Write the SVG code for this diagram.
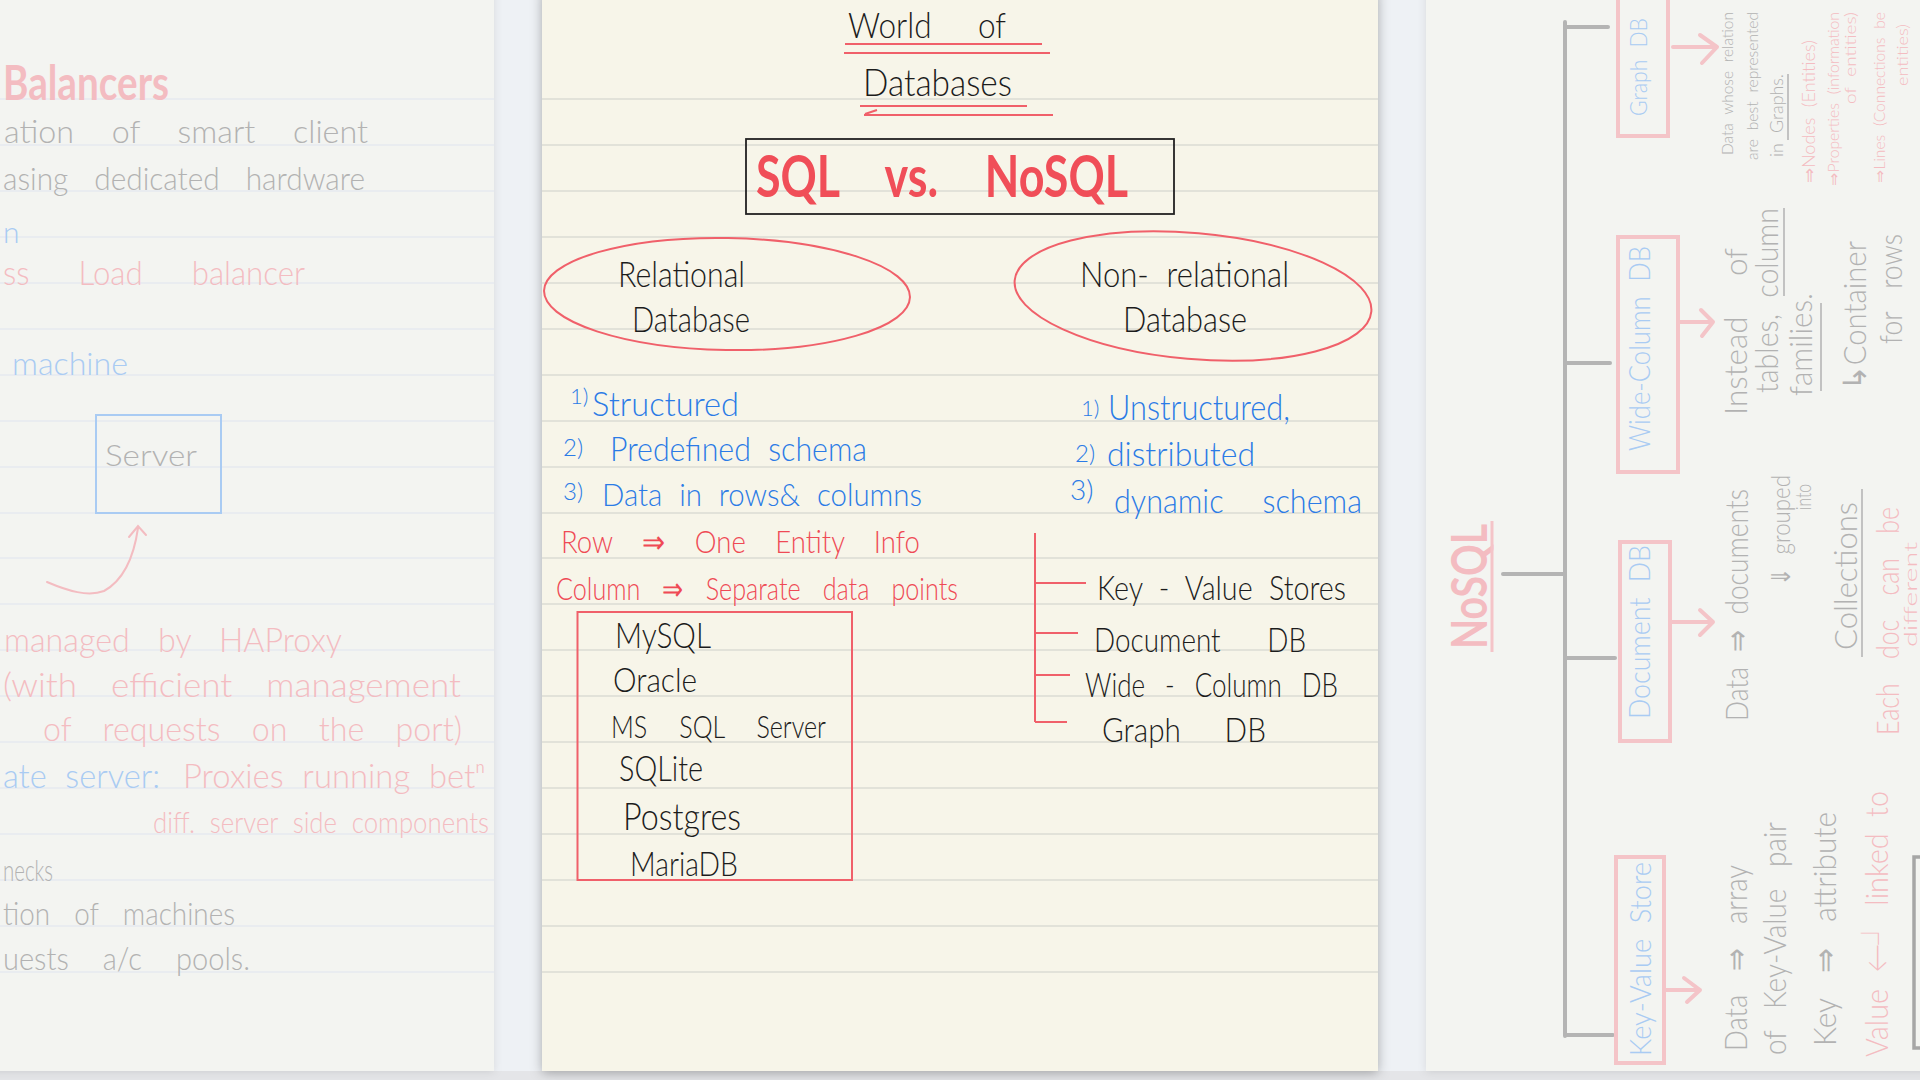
<svg xmlns="http://www.w3.org/2000/svg" width="1920" height="1080" viewBox="0 0 1920 1080">
<defs>
<style>
.hw{font-family:Lato,"Noto Sans","DejaVu Sans",sans-serif;font-weight:300;word-spacing:0.3em}
.bold{font-weight:700}
.k{fill:#1c1c1c}.b{fill:#2b7be6}.r{fill:#ef4a55}
.fg{fill:#b2b2b2}.fp{fill:#f3bcc1}.fb{fill:#a9cbf3}
.rule{stroke:#dcdbd3;stroke-width:1.6;fill:none}
.lrule{stroke:#e6e9ef;stroke-width:1.4;fill:none}
.redln{stroke:#f0606a;stroke-width:2;fill:none}
.pinkln{stroke:#f4c4c8;stroke-width:4;fill:none;stroke-linecap:round;stroke-linejoin:round}
.grayln{stroke:#b4b4b4;stroke-width:4;fill:none;stroke-linecap:round}
</style>
<filter id="sh" x="-10%" y="-5%" width="120%" height="110%"><feDropShadow dx="0" dy="2" stdDeviation="6" flood-color="#000" flood-opacity="0.3"/></filter>
<filter id="sh2" x="-10%" y="-5%" width="120%" height="110%"><feDropShadow dx="0" dy="1" stdDeviation="4" flood-color="#000" flood-opacity="0.1"/></filter>
</defs>
<rect width="1920" height="1080" fill="#eef1f5"/>
<rect y="1071" width="1920" height="9" fill="#e4e5e8"/>

<!-- LEFT PAGE (faded) -->
<g id="left-page">
<rect x="-10" y="-10" width="504" height="1081" fill="#f3f4f1" filter="url(#sh2)"/>
<path class="lrule" d="M0,99H494M0,145H494M0,191H494M0,237H494M0,283H494M0,329H494M0,375H494M0,421H494M0,467H494M0,513H494M0,558H494M0,604H494M0,650H494M0,696H494M0,742H494M0,788H494M0,834H494M0,880H494M0,926H494M0,972H494"/>
<text class="hw bold fp" x="3" y="100" font-size="48" textLength="166" lengthAdjust="spacingAndGlyphs">Balancers</text>
<text class="hw fg" x="4" y="143" font-size="32" textLength="364" lengthAdjust="spacingAndGlyphs" style="word-spacing:0.9em">ation of smart client</text>
<text class="hw fg" x="3" y="190" font-size="32" textLength="362" lengthAdjust="spacingAndGlyphs" style="word-spacing:0.6em">asing dedicated hardware</text>
<text class="hw fb" x="3" y="243" font-size="30">n</text>
<text class="hw fp" x="3" y="285" font-size="34" textLength="302" lengthAdjust="spacingAndGlyphs" style="word-spacing:1.3em">ss Load balancer</text>
<text class="hw fb" x="12" y="375" font-size="32" textLength="116" lengthAdjust="spacingAndGlyphs">machine</text>
<g id="server">
<rect x="96" y="415" width="125" height="98" fill="none" stroke="#a9cbf3" stroke-width="2"/>
<text class="hw fg" x="105" y="466" font-size="30" textLength="92" lengthAdjust="spacingAndGlyphs">Server</text>
</g>
<path d="M47,582 C68,591 88,597 104,591 C124,580 134,556 138,528 M129,537 L138,526 L146,535" fill="none" stroke="#f3bcc1" stroke-width="2" stroke-linecap="round"/>
<text class="hw fp" x="4" y="652" font-size="34" textLength="338" lengthAdjust="spacingAndGlyphs" style="word-spacing:0.6em">managed by HAProxy</text>
<text class="hw fp" x="3" y="697" font-size="34" textLength="458" lengthAdjust="spacingAndGlyphs" style="word-spacing:0.7em">(with efficient management</text>
<text class="hw fp" x="43" y="741" font-size="34" textLength="419" lengthAdjust="spacingAndGlyphs" style="word-spacing:0.7em">of requests on the port)</text>
<text class="hw fb" x="3" y="788" font-size="34" textLength="157" lengthAdjust="spacingAndGlyphs">ate server:</text>
<text class="hw fp" x="183" y="788" font-size="34" textLength="302" lengthAdjust="spacingAndGlyphs">Proxies running betⁿ</text>
<text class="hw fp" x="153" y="833" font-size="30" textLength="336" lengthAdjust="spacingAndGlyphs">diff. server side components</text>
<text class="hw fg" x="3" y="881" font-size="30" textLength="50" lengthAdjust="spacingAndGlyphs">necks</text>
<text class="hw fg" x="3" y="925" font-size="32" textLength="232" lengthAdjust="spacingAndGlyphs" style="word-spacing:0.6em">tion of machines</text>
<text class="hw fg" x="3" y="970" font-size="32" textLength="247" lengthAdjust="spacingAndGlyphs" style="word-spacing:0.9em">uests a/c pools.</text>
</g>

<!-- RIGHT PAGE (faded, rotated) -->
<g id="right-page">
<rect x="1426" y="-10" width="504" height="1081" fill="#f3f4f1" filter="url(#sh2)"/>
<g id="nosql-tree-connectors">
<path class="grayln" d="M1565,22V1036M1565,27H1608M1565,363H1610M1565,658H1615M1565,1035H1613M1503,574H1565"/>
<path class="pinkln" d="M1673,47H1717M1700,35L1717,47L1702,63"/>
<path class="pinkln" d="M1678,322H1713M1701,310L1713,322L1702,336"/>
<path class="pinkln" d="M1670,622H1713M1700,610L1713,622L1700,635"/>
<path class="pinkln" d="M1665,990H1700M1684,978L1700,990L1687,1002"/>
</g>
<g id="nosql-root">
<text class="hw bold fp" transform="translate(1487,649) rotate(-90)" font-size="50" textLength="125" lengthAdjust="spacingAndGlyphs">NoSQL</text>
<path d="M1492,521V652" stroke="#f4c4c8" stroke-width="3" fill="none"/>
</g>
<g id="graph-db">
<path d="M1618,0V136H1668V0" fill="none" stroke="#f4c4c8" stroke-width="4"/>
<text class="hw fb" transform="translate(1647,116) rotate(-90)" font-size="24" textLength="98" lengthAdjust="spacingAndGlyphs">Graph DB</text>
</g>
<g id="wide-column-db">
<rect x="1618" y="237" width="60" height="235" fill="none" stroke="#f4c4c8" stroke-width="4"/>
<text class="hw fb" transform="translate(1650,451) rotate(-90)" font-size="30" textLength="205" lengthAdjust="spacingAndGlyphs">Wide-Column DB</text>
</g>
<g id="document-db">
<rect x="1620" y="542" width="50" height="199" fill="none" stroke="#f4c4c8" stroke-width="4"/>
<text class="hw fb" transform="translate(1650,719) rotate(-90)" font-size="30" textLength="174" lengthAdjust="spacingAndGlyphs">Document DB</text>
</g>
<g id="key-value-store">
<rect x="1616" y="857" width="48" height="206" fill="none" stroke="#f4c4c8" stroke-width="4"/>
<text class="hw fb" transform="translate(1651,1056) rotate(-90)" font-size="30" textLength="194" lengthAdjust="spacingAndGlyphs">Key-Value Store</text>
</g>
<g id="graph-desc">
<text class="hw fg" transform="translate(1733,155) rotate(-90)" font-size="16" textLength="143" lengthAdjust="spacingAndGlyphs">Data whose relation</text>
<text class="hw fg" transform="translate(1758,160) rotate(-90)" font-size="16" textLength="148" lengthAdjust="spacingAndGlyphs">are best represented</text>
<text class="hw fg" transform="translate(1783,157) rotate(-90)" font-size="18" textLength="83" lengthAdjust="spacingAndGlyphs">in Graphs.</text>
<path d="M1788,74V140" stroke="#b2b2b2" stroke-width="1.5"/>
<text class="hw fp" transform="translate(1815,183) rotate(-90)" font-size="17" textLength="143" lengthAdjust="spacingAndGlyphs">⇒Nodes (Entities)</text>
<text class="hw fp" transform="translate(1839,186) rotate(-90)" font-size="15" textLength="174" lengthAdjust="spacingAndGlyphs">⇒Properties (information</text>
<text class="hw fp" transform="translate(1856,104) rotate(-90)" font-size="16" textLength="92" lengthAdjust="spacingAndGlyphs">of entities)</text>
<text class="hw fp" transform="translate(1885,183) rotate(-90)" font-size="15" textLength="171" lengthAdjust="spacingAndGlyphs">⇒Lines (Connections be</text>
<text class="hw fp" transform="translate(1908,86) rotate(-90)" font-size="16" textLength="62" lengthAdjust="spacingAndGlyphs">entities)</text>
</g>
<g id="wide-desc">
<text class="hw fg" transform="translate(1747,415) rotate(-90)" font-size="32" textLength="167" lengthAdjust="spacingAndGlyphs" style="word-spacing:1em">Instead of</text>
<text class="hw fg" transform="translate(1778,393) rotate(-90)" font-size="32" textLength="185" lengthAdjust="spacingAndGlyphs">tables, column</text>
<path d="M1784,208V296" stroke="#b2b2b2" stroke-width="1.5"/>
<text class="hw fg" transform="translate(1812,396) rotate(-90)" font-size="32" textLength="103" lengthAdjust="spacingAndGlyphs">families.</text>
<path d="M1821,303V391" stroke="#b2b2b2" stroke-width="1.5"/>
<text class="hw fg" transform="translate(1866,390) rotate(-90)" font-size="32" textLength="149" lengthAdjust="spacingAndGlyphs">↳Container</text>
<text class="hw fg" transform="translate(1902,344) rotate(-90)" font-size="32" textLength="110" lengthAdjust="spacingAndGlyphs" style="word-spacing:0.6em">for rows</text>
</g>
<g id="document-desc">
<text class="hw fg" transform="translate(1748,721) rotate(-90)" font-size="32" textLength="232" lengthAdjust="spacingAndGlyphs">Data ⇒ documents</text>
<text class="hw fg" transform="translate(1790,586) rotate(-90)" font-size="26" textLength="111" lengthAdjust="spacingAndGlyphs">⇓ grouped</text>
<text class="hw fg" transform="translate(1811,510) rotate(-90)" font-size="22" textLength="26" lengthAdjust="spacingAndGlyphs">into</text>
<text class="hw fg" transform="translate(1857,650) rotate(-90)" font-size="32" textLength="148" lengthAdjust="spacingAndGlyphs">Collections</text>
<path d="M1862,489V657" stroke="#b2b2b2" stroke-width="1.5"/>
<text class="hw fp" transform="translate(1899,735) rotate(-90)" font-size="32" textLength="228" lengthAdjust="spacingAndGlyphs" style="word-spacing:0.7em">Each doc can be</text>
<text class="hw fp" transform="translate(1917,647) rotate(-90)" font-size="18" textLength="105" lengthAdjust="spacingAndGlyphs">different</text>
</g>
<g id="keyvalue-desc">
<text class="hw fg" transform="translate(1747,1051) rotate(-90)" font-size="32" textLength="186" lengthAdjust="spacingAndGlyphs" style="word-spacing:0.6em">Data ⇒ array</text>
<text class="hw fg" transform="translate(1786,1055) rotate(-90)" font-size="32" textLength="233" lengthAdjust="spacingAndGlyphs" style="word-spacing:0.5em">of Key-Value pair</text>
<text class="hw fg" transform="translate(1836,1046) rotate(-90)" font-size="32" textLength="234" lengthAdjust="spacingAndGlyphs" style="word-spacing:0.6em">Key ⇒ attribute</text>
<text class="hw fp" transform="translate(1888,1057) rotate(-90)" font-size="32" textLength="266" lengthAdjust="spacingAndGlyphs">Value ←┘ linked to</text>
<rect x="1914" y="857" width="40" height="191" fill="none" stroke="#a6a6a6" stroke-width="3.5"/>
</g>
</g>

<!-- MIDDLE PAGE -->
<g id="middle-page">
<rect x="542" y="-10" width="836" height="1081" fill="#f7f5e9" filter="url(#sh)"/>
<path class="rule" d="M542,99H1378M542,145H1378M542,191H1378M542,237H1378M542,283H1378M542,329H1378M542,375H1378M542,421H1378M542,467H1378M542,513H1378M542,558H1378M542,604H1378M542,650H1378M542,696H1378M542,742H1378M542,788H1378M542,834H1378M542,880H1378M542,926H1378M542,972H1378"/>

<g id="title">
<text class="hw k" x="848" y="38" font-size="36" textLength="158" lengthAdjust="spacingAndGlyphs" style="word-spacing:1.2em">World of</text>
<path class="redln" d="M845,44H1042M844,53H1050"/>
<text class="hw k" x="863" y="96" font-size="38" textLength="149" lengthAdjust="spacingAndGlyphs">Databases</text>
<path class="redln" d="M860,106H1027M864,115H1053M877,110L865,114"/>
</g>

<g id="sql-vs-nosql">
<rect x="746" y="139" width="428" height="75" fill="none" stroke="#222" stroke-width="1.8"/>
<text class="hw bold r" x="756" y="197" font-size="58" textLength="372" lengthAdjust="spacingAndGlyphs" style="word-spacing:0.8em;fill:#f04e58">SQL vs. NoSQL</text>
</g>

<g id="relational">
<ellipse cx="727" cy="294" rx="183" ry="56" fill="none" stroke="#f0606a" stroke-width="2" transform="rotate(1 727 294)"/>
<text class="hw k" x="618" y="287" font-size="36" textLength="127" lengthAdjust="spacingAndGlyphs">Relational</text>
<text class="hw k" x="632" y="332" font-size="36" textLength="118" lengthAdjust="spacingAndGlyphs">Database</text>
</g>

<g id="non-relational">
<ellipse cx="1193" cy="296" rx="179" ry="63" fill="none" stroke="#f0606a" stroke-width="2" transform="rotate(5 1193 296)"/>
<text class="hw k" x="1080" y="287" font-size="36" textLength="209" lengthAdjust="spacingAndGlyphs">Non- relational</text>
<text class="hw k" x="1123" y="332" font-size="36" textLength="124" lengthAdjust="spacingAndGlyphs">Database</text>
</g>

<g id="sql-features">
<text class="hw b" x="570" y="404" font-size="22">1)</text>
<text class="hw b" x="592" y="416" font-size="34" textLength="147" lengthAdjust="spacingAndGlyphs">Structured</text>
<text class="hw b" x="563" y="456" font-size="24">2)</text>
<text class="hw b" x="610" y="461" font-size="34" textLength="257" lengthAdjust="spacingAndGlyphs">Predefined schema</text>
<text class="hw b" x="563" y="500" font-size="24">3)</text>
<text class="hw b" x="602" y="506" font-size="32" textLength="320" lengthAdjust="spacingAndGlyphs">Data in rows&amp; columns</text>
<text class="hw r" x="561" y="553" font-size="32" textLength="359" lengthAdjust="spacingAndGlyphs" style="word-spacing:0.8em">Row ⇒ One Entity Info</text>
<text class="hw r" x="556" y="600" font-size="32" textLength="402" lengthAdjust="spacingAndGlyphs" style="word-spacing:0.6em">Column ⇒ Separate data points</text>
</g>

<g id="nosql-features">
<text class="hw b" x="1081" y="416" font-size="22">1)</text>
<text class="hw b" x="1108" y="420" font-size="36" textLength="182" lengthAdjust="spacingAndGlyphs">Unstructured,</text>
<text class="hw b" x="1075" y="462" font-size="24">2)</text>
<text class="hw b" x="1107" y="466" font-size="34" textLength="148" lengthAdjust="spacingAndGlyphs">distributed</text>
<text class="hw b" x="1070" y="500" font-size="28">3)</text>
<text class="hw b" x="1114" y="513" font-size="34" textLength="248" lengthAdjust="spacingAndGlyphs" style="word-spacing:1em">dynamic schema</text>
</g>

<g id="sql-databases">
<rect x="577.5" y="612" width="274.5" height="268" fill="none" stroke="#f0606a" stroke-width="2"/>
<text class="hw k" x="615" y="648" font-size="36" textLength="96" lengthAdjust="spacingAndGlyphs">MySQL</text>
<text class="hw k" x="613" y="692" font-size="34" textLength="84" lengthAdjust="spacingAndGlyphs">Oracle</text>
<text class="hw k" x="611" y="738" font-size="32" textLength="215" lengthAdjust="spacingAndGlyphs" style="word-spacing:1em">MS SQL Server</text>
<text class="hw k" x="619" y="781" font-size="36" textLength="84" lengthAdjust="spacingAndGlyphs">SQLite</text>
<text class="hw k" x="623" y="830" font-size="38" textLength="118" lengthAdjust="spacingAndGlyphs">Postgres</text>
<text class="hw k" x="630" y="876" font-size="34" textLength="108" lengthAdjust="spacingAndGlyphs">MariaDB</text>
</g>

<g id="connectors">
<path class="redln" d="M1035,533V722M1035,583H1086M1035,633H1078M1035,675H1070M1035,722H1067"/>
</g>
<g id="nosql-types">
<text class="hw k" x="1097" y="600" font-size="34" textLength="249" lengthAdjust="spacingAndGlyphs">Key - Value Stores</text>
<text class="hw k" x="1094" y="652" font-size="34" textLength="212" lengthAdjust="spacingAndGlyphs" style="word-spacing:1.4em">Document DB</text>
<text class="hw k" x="1085" y="697" font-size="34" textLength="253" lengthAdjust="spacingAndGlyphs" style="word-spacing:0.5em">Wide - Column DB</text>
<text class="hw k" x="1102" y="742" font-size="34" textLength="164" lengthAdjust="spacingAndGlyphs" style="word-spacing:1.2em">Graph DB</text>
</g>
</g>
</svg>
